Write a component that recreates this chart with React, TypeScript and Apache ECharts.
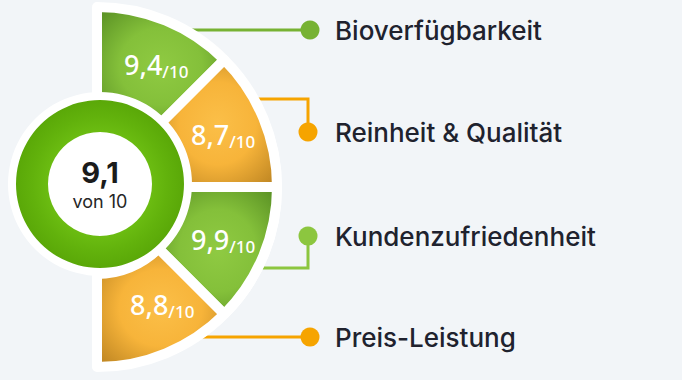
import React, { useEffect, useRef } from "react";
import * as echarts from "echarts";

const categories = ["Bioverfügbarkeit", "Reinheit & Qualität", "Kundenzufriedenheit", "Preis-Leistung"];
const scores = [9.4, 8.7, 9.9, 8.8];
const tones = ["green", "orange", "green", "orange"];
const overallScore = 9.1;
const maxScore = 10;
const overallSubLabel = "von";

const fmt = (v: number) => v.toFixed(1).replace(".", ",");

const sectorFill = (tone: string) =>
  tone === "green"
    ? {
        type: "radial", x: 0.5, y: 0.5, r: 0.72,
        colorStops: [
          { offset: 0, color: "#8fca42" },
          { offset: 0.45, color: "#84c03a" },
          { offset: 1, color: "#528820" },
        ],
      }
    : {
        type: "radial", x: 0.5, y: 0.5, r: 0.72,
        colorStops: [
          { offset: 0, color: "#fbbf48" },
          { offset: 0.45, color: "#f7b43a" },
          { offset: 1, color: "#b47d1e" },
        ],
      };

// label nudges (padding) so labels sit where the reference puts them
const labelPads = [
  [8, 0, 0, 14],
  [0, 0, 0, 0],
  [0, 0, 0, 0],
  [0, 0, 18, 26],
];

export default function App() {
  const ref = useRef<HTMLDivElement>(null);
  useEffect(() => {
    document.body.style.margin = "0";
    const chart = echarts.init(ref.current!, null, { renderer: "svg" });

    const connectorColors = ["#77b233", "#f6a400", "#8cc63f", "#f6a400"];
    const dots = [
      [310, 30],
      [308, 132],
      [308, 236],
      [310, 337],
    ];
    const paths = [
      [[150, 30], [310, 30]],
      [[240, 99], [308, 99], [308, 132]],
      [[308, 236], [308, 268], [240, 268]],
      [[180, 337], [310, 337]],
    ];

    const graphics: any[] = [];
    paths.forEach((p, i) => {
      graphics.push({
        type: "polyline",
        z: 0,
        silent: true,
        shape: { points: p },
        style: { stroke: connectorColors[i], lineWidth: 3, fill: null },
      });
    });
    dots.forEach((d, i) => {
      graphics.push({
        type: "circle",
        z: 10,
        silent: true,
        shape: { cx: d[0], cy: d[1], r: 9.5 },
        style: { fill: connectorColors[i] },
      });
      graphics.push({
        type: "text",
        z: 10,
        silent: true,
        x: 335,
        y: d[1],
        style: {
          text: categories[i],
          fontFamily: "Inter",
          fontSize: 26,
          fontWeight: 500,
          fill: "#20222e",
          verticalAlign: "middle",
          align: "left",
        },
      });
    });

    const sectorData: any[] = scores.map((v, i) => ({
      value: 1,
      name: categories[i],
      itemStyle: { color: sectorFill(tones[i]) },
      label: { padding: labelPads[i] },
    }));
    sectorData.push({
      value: scores.length,
      name: "_hidden",
      itemStyle: { color: "transparent", borderWidth: 0 },
      label: { show: false },
    });

    chart.setOption({
      animation: false,
      backgroundColor: "#f2f5f8",
      graphic: { elements: graphics },
      series: [
        {
          type: "pie",
          z: 1,
          silent: true,
          center: [100, 188],
          radius: [0, 174],
          startAngle: 90,
          label: { show: false },
          labelLine: { show: false },
          emphasis: { disabled: true },
          data: [
            { value: 1, itemStyle: { color: "#ffffff", borderColor: "#ffffff", borderWidth: 16 } },
            { value: 1, itemStyle: { color: "transparent", borderWidth: 0 } },
          ],
        },
        {
          type: "pie",
          z: 2,
          silent: true,
          center: [97, 187],
          radius: [87, 180],
          startAngle: 90,
          clockwise: true,
          avoidLabelOverlap: false,
          emphasis: { disabled: true },
          itemStyle: { borderColor: "#ffffff", borderWidth: 10 },
          labelLine: { show: false },
          label: {
            show: true,
            position: "inside",
            formatter: (p: any) =>
              p.dataIndex < scores.length ? `{n|${fmt(scores[p.dataIndex])}}{d|/${maxScore}}` : "",
            rich: {
              n: { fontFamily: "Noto Sans", fontSize: 27, fontWeight: 500, color: "#ffffff", lineHeight: 30 },
              d: { fontFamily: "Noto Sans", fontSize: 17, fontWeight: 500, color: "#ffffff", lineHeight: 20, padding: [14, 0, 0, 0] },
            },
          },
          data: sectorData,
        },
        {
          type: "pie",
          z: 3,
          silent: true,
          center: [100, 184],
          radius: [0, 92],
          label: { show: false },
          labelLine: { show: false },
          emphasis: { disabled: true },
          data: [{ value: 1, itemStyle: { color: "#ffffff" } }],
        },
        {
          type: "pie",
          z: 4,
          silent: true,
          center: [100, 184],
          radius: [52, 84],
          emphasis: { disabled: true },
          labelLine: { show: false },
          label: {
            show: true,
            position: "center",
            formatter: `{a|${fmt(overallScore)}}\n{b|${overallSubLabel} ${maxScore}}`,
            rich: {
              a: { fontFamily: "Inter", fontSize: 29, fontWeight: 700, color: "#1b1b1b", lineHeight: 34 },
              b: { fontFamily: "Inter", fontSize: 18, color: "#262626", lineHeight: 24 },
            },
          },
          data: [
            {
              value: overallScore,
              itemStyle: {
                color: {
                  type: "radial", x: 0.5, y: 0.5, r: 0.5,
                  colorStops: [
                    { offset: 0.6, color: "#6cbd12" },
                    { offset: 0.8, color: "#62b20c" },
                    { offset: 1, color: "#5aa808" },
                  ],
                },
              },
            },
          ],
        },
      ],
    });
    return () => chart.dispose();
  }, []);
  return <div ref={ref} style={{ position: "fixed", left: 0, top: 0, width: 682, height: 380 }} />;
}
